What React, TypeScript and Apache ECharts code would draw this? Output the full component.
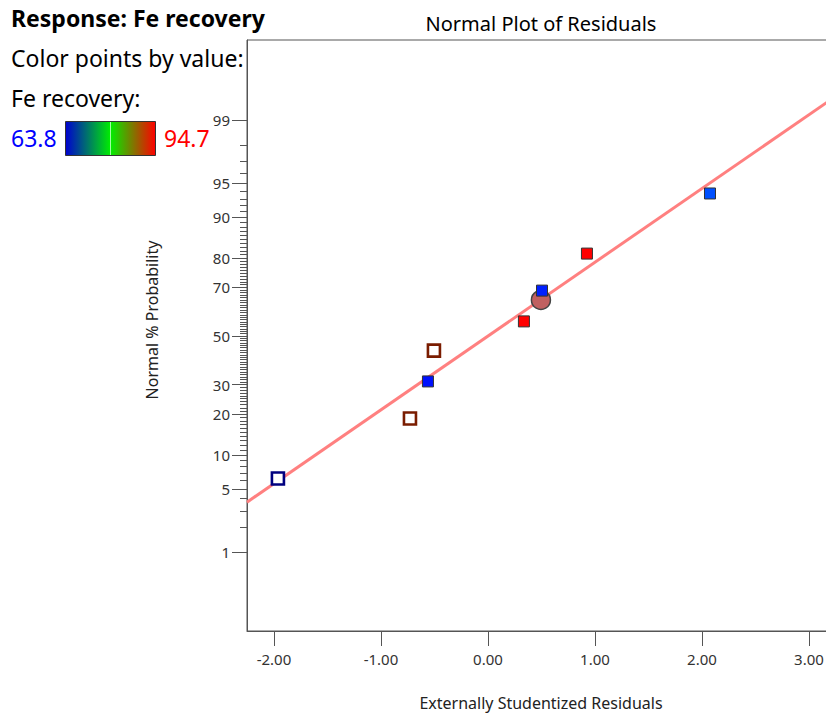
import React, { useEffect, useRef } from "react";
import * as echarts from "echarts";

// ---- data ----
const residuals = [-1.963, -0.729, -0.561, -0.505, 0.336, 0.505, 0.925, 2.075];
const probabilities = [6.25, 18.75, 31.25, 43.75, 56.25, 68.75, 81.25, 93.75];
const pointColors = ["#000080", "#7a1c00", "#0010ff", "#7a1c00", "#ff0000", "#0020ff", "#ff0000", "#0050ff"];
const pointFilled = [false, false, true, false, true, true, true, true];
const highlightX = [0.495];
const highlightP = [65.1];
const yTickLabels = [1, 5, 10, 20, 30, 50, 70, 80, 90, 95, 99];
const xTickLabels = [-2, -1, 0, 1, 2, 3];
const fitIntercept = 0;
const fitSlope = 0.794;
const colorMin = "63.8";
const colorMax = "94.7";

function probit(p: number): number {
  const a = [-3.969683028665376e1, 2.209460984245205e2, -2.759285104469687e2, 1.38357751867269e2, -3.066479806614716e1, 2.506628277459239];
  const b = [-5.447609879822406e1, 1.615858368580409e2, -1.556989798598866e2, 6.680131188771972e1, -1.328068155288572e1];
  const c = [-7.784894002430293e-3, -3.223964580411365e-1, -2.400758277161838, -2.549732539343734, 4.374664141464968, 2.938163982698783];
  const d = [7.784695709041462e-3, 3.224671290700398e-1, 2.445134137142996, 3.754408661907416];
  const plow = 0.02425;
  const phigh = 1 - plow;
  if (p < plow) {
    const q = Math.sqrt(-2 * Math.log(p));
    return (((((c[0] * q + c[1]) * q + c[2]) * q + c[3]) * q + c[4]) * q + c[5]) / ((((d[0] * q + d[1]) * q + d[2]) * q + d[3]) * q + 1);
  }
  if (p <= phigh) {
    const q = p - 0.5;
    const r = q * q;
    return ((((((a[0] * r + a[1]) * r + a[2]) * r + a[3]) * r + a[4]) * r + a[5]) * q) / (((((b[0] * r + b[1]) * r + b[2]) * r + b[3]) * r + b[4]) * r + 1);
  }
  const q = Math.sqrt(-2 * Math.log(1 - p));
  return -(((((c[0] * q + c[1]) * q + c[2]) * q + c[3]) * q + c[4]) * q + c[5]) / ((((d[0] * q + d[1]) * q + d[2]) * q + d[3]) * q + 1);
}

const FONT = "'Noto Sans', 'Open Sans', sans-serif";
const EXTRA_W = 40;

export default function App() {
  const ref = useRef<HTMLDivElement>(null);
  useEffect(() => {
    if (!ref.current) return;
    const chart = echarts.init(ref.current, null, { renderer: "svg" });

    const xMin = -2.252;
    const xMax = 3.533;
    const yMin = -3.175;
    const yMax = 3.186;

    const majorZ = yTickLabels.map((p) => probit(p / 100));
    const minorZ: number[] = [];
    for (let p = 1; p <= 99; p++) {
      if (!yTickLabels.includes(p)) minorZ.push(probit(p / 100));
    }

    const pointData = residuals.map((x, i) => ({
      value: [x, probit(probabilities[i] / 100)],
      symbolSize: pointFilled[i] ? 11 : 12,
      itemStyle: pointFilled[i]
        ? { color: pointColors[i], borderColor: "#333", borderWidth: 1, opacity: 1 }
        : { color: "#ffffff", borderColor: pointColors[i], borderWidth: 2.6, opacity: 1 },
    }));

    const lineData = [xMin, xMax].map((x) => [x, fitIntercept + fitSlope * x]);

    const axisColor = "#555";
    const labelColor = "#333";

    chart.setOption({
      animation: false,
      textStyle: { fontFamily: FONT },
      grid: {
        left: 247,
        top: 40,
        bottom: 84,
        right: 0,
        show: true,
        backgroundColor: "#ffffff",
        borderColor: axisColor,
        borderWidth: 1,
        z: 2,
      },
      xAxis: {
        type: "value",
        min: xMin,
        max: xMax,
        z: 3,
        axisLine: { show: true, onZero: false, lineStyle: { color: axisColor } },
        axisTick: { show: true, length: 15, customValues: xTickLabels, lineStyle: { color: axisColor } },
        axisLabel: {
          customValues: xTickLabels,
          formatter: (v: number) => v.toFixed(2),
          fontSize: 15,
          color: labelColor,
          margin: 20,
          fontFamily: FONT,
        },
        splitLine: { show: false },
      },
      yAxis: [
        {
          type: "value",
          position: "left",
          min: yMin,
          max: yMax,
          z: 3,
          axisLine: { show: true, onZero: false, lineStyle: { color: axisColor } },
          axisTick: { show: true, length: 15, customValues: majorZ, lineStyle: { color: axisColor } },
          axisLabel: {
            customValues: majorZ,
            formatter: (v: number) => {
              let best = yTickLabels[0];
              let bd = Infinity;
              yTickLabels.forEach((p, i) => {
                const dd = Math.abs(majorZ[i] - v);
                if (dd < bd) { bd = dd; best = p; }
              });
              return String(best);
            },
            fontSize: 15,
            color: labelColor,
            margin: 17,
            fontFamily: FONT,
          },
          splitLine: { show: false },
        },
        {
          type: "value",
          position: "left",
          offset: 0,
          min: yMin,
          max: yMax,
          z: 3,
          axisLine: { show: false, onZero: false },
          axisTick: { show: true, length: 7, customValues: minorZ, lineStyle: { color: axisColor } },
          axisLabel: { show: false },
          splitLine: { show: false },
        },
      ],
      graphic: [
        { type: "text", x: 11, y: 18, z: 0, style: { text: "Response: Fe recovery", font: `bold 23px ${FONT}`, fill: "#000", verticalAlign: "middle" } },
        { type: "text", x: 11, y: 58, z: 0, style: { text: "Color points by value:", font: `23px ${FONT}`, fill: "#000", verticalAlign: "middle" } },
        { type: "text", x: 11, y: 98, z: 0, style: { text: "Fe recovery:", font: `23px ${FONT}`, fill: "#000", verticalAlign: "middle" } },
        { type: "text", x: 11, y: 138, z: 0, style: { text: colorMin, font: `23px ${FONT}`, fill: "#0000ff", verticalAlign: "middle" } },
        { type: "text", x: 164, y: 138, z: 0, style: { text: colorMax, font: `23px ${FONT}`, fill: "#ff0000", verticalAlign: "middle" } },
        {
          type: "rect",
          z: 0,
          shape: { x: 65.5, y: 121.5, width: 90, height: 34 },
          style: {
            fill: new echarts.graphic.LinearGradient(0, 0, 1, 0, [
              { offset: 0, color: "#0000d0" },
              { offset: 0.5, color: "#00ee00" },
              { offset: 1, color: "#ff0000" },
            ]),
            stroke: "#333",
            lineWidth: 1,
          },
        },
        { type: "line", z: 1, shape: { x1: 110.5, y1: 122, x2: 110.5, y2: 155 }, style: { stroke: "#a0ffa0", lineWidth: 1 } },
        { type: "text", x: 541, y: 23, z: 5, style: { text: "Normal Plot of Residuals", font: `20px ${FONT}`, fill: "#000", align: "center", verticalAlign: "middle" } },
        { type: "text", x: 541, y: 703, z: 5, style: { text: "Externally Studentized Residuals", font: `16px ${FONT}`, fill: "#222", align: "center", verticalAlign: "middle" } },
        { type: "text", x: 152, y: 320, rotation: Math.PI / 2, z: 5, style: { text: "Normal % Probability", font: `16px ${FONT}`, fill: "#222", align: "center", verticalAlign: "middle" } },
      ],
      series: [
        {
          type: "line",
          data: lineData,
          symbol: "none",
          z: 3,
          lineStyle: { color: "#ff8080", width: 3 },
          silent: true,
        },
        {
          type: "scatter",
          z: 4,
          symbol: "circle",
          symbolSize: 19,
          data: highlightX.map((x, i) => [x, probit(highlightP[i] / 100)]),
          itemStyle: { color: "#c06060", borderColor: "#444", borderWidth: 1.5, opacity: 1 },
        },
        {
          type: "scatter",
          z: 5,
          symbol: "rect",
          data: pointData,
        },
      ],
    });
    return () => chart.dispose();
  }, []);
  return (
    <div style={{ position: "fixed", left: 0, top: 0, width: 826, height: 715, overflow: "hidden", background: "#fff" }}>
      <div ref={ref} style={{ width: 826 + EXTRA_W, height: 715 }} />
    </div>
  );
}
